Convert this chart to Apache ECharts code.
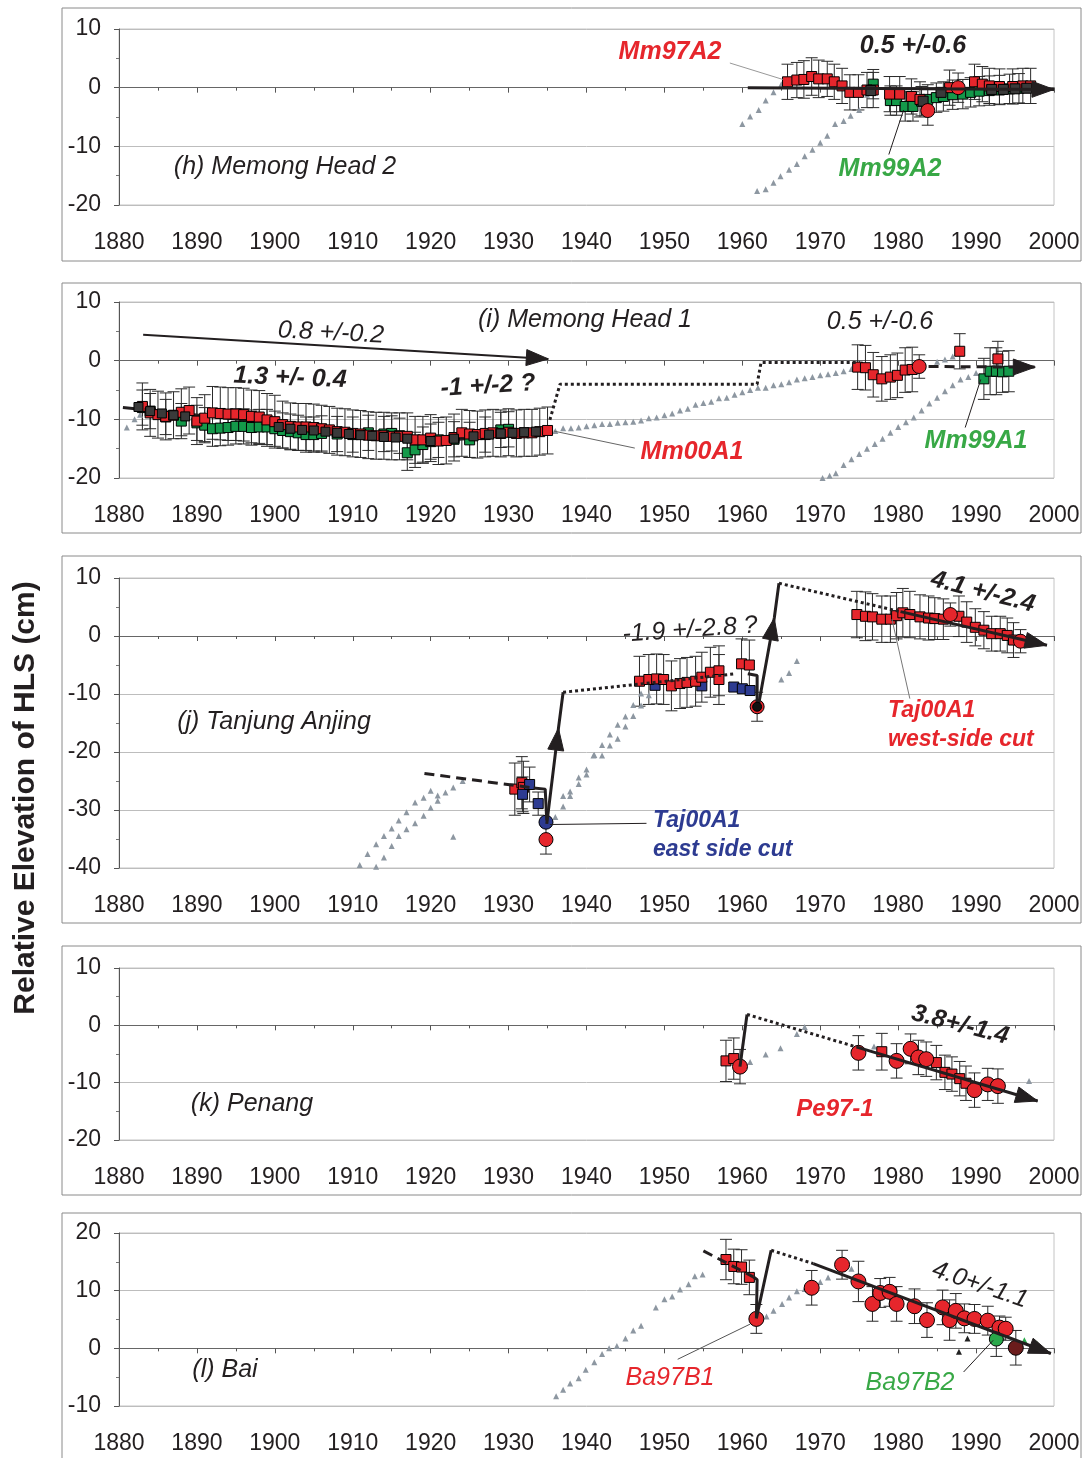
<!DOCTYPE html>
<html><head><meta charset="utf-8">
<script src="https://cdn.jsdelivr.net/npm/echarts@6/dist/echarts.min.js"></script>
<style>html,body{margin:0;padding:0;background:#fff}#c{width:1086px;height:1458px}</style>
</head><body><div id="c"></div><script>
// ---------- axis ranges ----------
const X_MIN = 1880, X_MAX = 2000, X_STEP = 10;
const Y_RANGES = [[-20, 10], [-20, 10], [-40, 10], [-20, 10], [-10, 20]];
const Y_STEP = 10;

// ---------- (h) Memong Head 2 ----------
const hRed = [[1965.8,1.0,3],[1967,1.3,3],[1967.9,1.4,3.2],[1968.9,1.9,3.2],[1969.8,1.5,3.2],[1970.9,1.5,3],[1971.8,1.0,3],[1972.8,0.3,3],[1973.8,-0.8,3],[1974.9,-0.8,3],[1976,-0.4,3],[1976.8,-0.4,3],[1978.9,-1.1,3],[1980.2,-1.1,3],[1981.7,-1.5,3],[1982.8,-2.0,3],[1986.6,0,3],[1989.8,1.0,3],[1990.8,0.6,3],[1991.7,0.3,3],[1993,0.2,3],[1994.7,0.2,3],[1996,0.3,3],[1997,0.3,3]];
const hRedCircle = [[1983.8,-3.9,2.5],[1987.7,0,2.5]];
const hGreen = [[1976.8,0.6,2.5],[1979,-2.2,2.5],[1979.8,-2.2,2.5],[1980.9,-3.2,2.5],[1981.9,-3.2,2.5],[1983,-2.3,2.5],[1983.8,-2,2.5],[1984.9,-1.7,2.5],[1985.8,-1.5,2.5],[1987,-1.2,2.5],[1988.3,-1.1,2.5],[1989.3,-0.8,2.5],[1990.4,-0.6,2.5],[1991.7,-0.5,2.5],[1993,-0.4,2.5],[1994.3,-0.2,2.5],[1995.5,-0.1,2.5]];
const hDark = [[1976.5,-0.5],[1983.2,-2.3],[1985.5,-0.8],[1992,-0.3],[1993.5,-0.3],[1995,-0.2],[1996.5,-0.1]];
const hTriA = [[1960,-6.2],[1961,-4.9],[1962.1,-3.8],[1963,-2.2],[1964,-0.8],[1965,0.6]];
const hTriB = [[1961.9,-17.6],[1963,-17.3],[1964,-16.2],[1964.9,-15.1],[1966,-14],[1967,-13],[1968,-11.7],[1969,-10.6],[1970,-9.4],[1970.9,-8.2],[1971.9,-6.2],[1973,-5.7],[1973.9,-4.8],[1975,-3.8],[1976,-1.2]];
const hTrend = [[1960.7,0],[2000,-0.3]];
const hLeadRed = [[1958.4,4.2],[1965.2,1.4]];
const hLeadGreen = [[1978.8,-11.4],[1980.7,-3.8]];

// ---------- (i) Memong Head 1 ----------
const iRed = [[1883,-7.8,4],[1884,-8.9,4],[1885,-9.2,4],[1886,-9.5,4],[1887,-9.3,4],[1888,-8.8,4],[1889,-8.5,4],[1890,-10.3,4],[1891,-9.8,4],[1892,-8.9,4.5],[1893,-9.0,4.5],[1894,-9.1,4.5],[1895,-9.1,4.5],[1896,-9.2,4.5],[1897,-9.5,4.5],[1898,-9.6,4.5],[1899,-10.1,4.5],[1900,-10.4,4.5],[1901,-10.9,4],[1902,-11.2,4],[1903,-11.3,4],[1904,-11.3,4],[1905,-11.4,4],[1906,-11.6,4],[1907,-11.8,4],[1908,-12.1,4],[1909,-12.2,4],[1910,-12.4,4],[1911,-12.5,4],[1912,-12.7,4],[1913,-12.8,4],[1914,-12.8,4],[1915,-12.9,4],[1916,-12.9,4],[1917,-12.9,4],[1918,-13.5,4],[1919,-13.5,4],[1920,-13.2,4],[1921,-13.7,4],[1922,-13.6,4],[1923,-13.1,4],[1924,-12.3,4],[1925,-12.5,4],[1926,-12.6,4],[1927,-12.4,4],[1928,-12.3,4],[1929,-12.4,4],[1930,-12.2,4],[1931,-12.4,4],[1932,-12.3,4],[1933,-12.3,4],[1934,-12.1,4],[1935,-11.9,4]];
const iGreen = [[1883,-8.0,3],[1884,-8.6,3],[1886,-9.6,3],[1888,-10.3,3],[1890,-10.6,3],[1891,-11.0,3],[1892,-11.6,3],[1893,-11.5,3],[1894,-11.4,3],[1895,-11.2,3],[1896,-11.2,3],[1897,-11.4,3],[1898,-11.3,3],[1899,-11.3,3],[1900,-11.6,3],[1901,-11.9,3],[1902,-12.1,3],[1903,-12.3,3],[1904,-12.6,3],[1905,-12.6,3],[1906,-12.4,3],[1908,-12.5,3],[1910,-12.6,3],[1912,-12.3,3],[1914,-12.5,3],[1915,-12.4,3],[1916,-12.8,3],[1917,-15.7,3],[1918,-15.2,3],[1919,-14.3,3],[1920,-13.8,3],[1921,-13.5,3],[1923,-13.4,3],[1925,-13.5,3],[1927,-12.6,3],[1929,-11.8,3],[1930,-11.7,3]];
const iDark = [[1882.5,-7.9],[1884,-8.6],[1885.5,-9.0],[1887,-9.3],[1888.5,-9.5],[1900.5,-11.3],[1902,-11.6],[1903.5,-11.8],[1905,-11.9],[1906.5,-12.1],[1908,-12.3],[1909.5,-12.5],[1911,-12.7],[1912.5,-12.8],[1914,-13.0],[1915.5,-13.1],[1917,-13.3],[1920,-13.7],[1923,-13.3],[1925.5,-12.9],[1927.5,-12.6],[1929,-12.4],[1930.5,-12.3],[1932,-12.2],[1933.5,-12.1]];
const iRedLate = [[1974.8,-1.1,3.8],[1975.8,-1.2,3.8],[1976.8,-2.4,3.8],[1977.9,-3.1,3.8],[1979,-2.8,3.8],[1979.9,-2.5,3.8],[1980.9,-1.6,3.8],[1981.8,-1.5,3.8],[1987.9,1.6,3],[1992.8,0.3,3]];
const iRedCircle = [[1982.7,-1.0,2]];
const iGreenLate = [[1991,-3.1,3.5],[1991.8,-1.8,4],[1992.6,-1.8,4],[1993.4,-1.9,3.5],[1994.2,-1.8,3.5]];
const iTriA = [[1881,-11.4],[1882,-10],[1882.7,-9.2],[1936,-12],[1937,-11.5],[1938,-11.5],[1939,-11.4],[1940,-11.2],[1941,-11],[1942,-10.8],[1943,-10.8],[1944,-10.6],[1945,-10.5],[1946,-10.4],[1947,-10.2],[1948,-9.8],[1949,-9.7],[1950,-9.3],[1951,-9.0],[1952,-8.5],[1953,-8.2],[1954,-7.5],[1955,-7.2],[1956,-7.0],[1957,-6.4],[1958,-6.3],[1959,-5.8],[1960,-5.4],[1961,-5.0],[1962,-4.6],[1963,-4.6],[1964,-4.2],[1965,-4],[1966,-3.7],[1967,-3.2],[1968,-3.0],[1969,-2.8],[1970,-2.5],[1971,-2.3],[1972,-2.1],[1973,-1.8],[1974,-1.4],[1985,-0.2],[1986,0.2],[1987,0.7]];
const iTriB = [[1970.3,-20],[1971.2,-19.6],[1972,-19.2],[1973,-17.8],[1974,-16.8],[1975,-15.9],[1976,-15],[1977,-14.2],[1978,-13.3],[1979,-12.3],[1980,-11.3],[1981,-10.5],[1982,-9.7],[1983,-8.5],[1984,-7.3],[1985,-6.3],[1986,-5.2],[1987,-4.2],[1988,-3.2],[1989,-2.8],[1990,-2.1]];
const iFit = [[1880.5,-8],[1922,-13.6],[1935,-12]];
const iLongTrend = [[1883.1,4.4],[1935.1,0.3]];
const iDotted = [[1935.3,-10.1],[1936.6,-4],[1961.9,-4],[1962.4,-0.3],[1974.7,-0.3]];
const iLateTrend = [[1983.9,-1],[1997.6,-1.1]];
const iLeadRed = [[1946.2,-14.9],[1935.8,-12.0]];
const iLeadGreen = [[1988.6,-11.4],[1990.6,-3.2]];

// ---------- (j) Tanjung Anjing ----------
const jRedEarly = [[1930.8,-26.4,4.5],[1931.7,-25.3,4.5],[1931.9,-26.1,4.5]];
const jBlueEarly = [[1931.8,-27.3,3],[1932.7,-25.6,3],[1933.8,-28.9,2]];
const jBlueCircle = [[1934.8,-32.1,1.5]];
const jRedCircle = [[1934.8,-35.1,2.5]];
const jRedMid = [[1946.8,-7.8,4.3],[1948,-7.5,4.3],[1949,-7.4,4.3],[1949.9,-7.5,4.3],[1950.9,-8.6,4.3],[1952,-8.2,4.3],[1952.9,-8,4.3],[1954,-7.8,4.3],[1954.8,-7.1,4.3],[1955.9,-6.25,4.3],[1957,-6,4.3],[1957,-7.5,4.3],[1959.9,-4.8,4.3],[1960.9,-5,4.3]];
const jBlueMid = [[1948.8,-8.5],[1954.8,-8.6],[1958.9,-8.8],[1960,-9.1],[1961,-9.4]];
const jDarkCircle = [[1961.9,-12.2,2.5]];
const jRedLate = [[1974.7,3.7,4],[1975.8,3.4,4.2],[1976.7,3.3,4],[1977.9,2.9,4],[1979,2.9,4],[1979.8,3.5,4],[1980.6,4.0,4.2],[1981.5,3.7,4],[1982.8,3.3,3.8],[1983.9,3.1,3.8],[1984.7,3.0,3.6],[1985.8,2.9,3.5],[1987.8,3.4,3.5],[1988.8,2.4,3.5],[1989.9,1.5,3.2],[1991,1.0,3.2],[1992,0.4,3],[1993.1,0.4,3],[1994,0.1,3],[1994.8,-0.7,3]];
const jRedLateCircle = [[1986.7,3.7,2],[1995.7,-0.9,2]];
const jTriA = [[1910.9,-39.5],[1911.9,-37.6],[1913,-35.9],[1914,-34.5],[1915,-33.2],[1915.9,-31.8],[1916.9,-30.4],[1918,-28.7],[1919.1,-27.9],[1920,-26.7],[1920.9,-27.5],[1922.9,-34.6]];
const jTriB = [[1913,-39.8],[1914,-38.2],[1915,-36.2],[1915.9,-34.5],[1916.9,-33.3],[1918,-32.3],[1919.1,-31],[1920,-29.6],[1920.9,-28.4],[1921.9,-27],[1922.9,-26.1],[1924.1,-25]];
const jTriC = [[1936,-31.2],[1937,-29.4],[1937.9,-27.6],[1939,-25.5],[1940,-23.9],[1940.9,-20.6],[1942,-18.8],[1943,-17],[1944,-15.3],[1945,-13.9],[1946,-11.9],[1947,-9.9]];
const jTriD = [[1937,-27.6],[1937.9,-26.8],[1939,-24.4],[1940,-23],[1941,-20.5],[1942,-20.6],[1943,-18.9],[1944,-17.7],[1945,-15.6],[1946,-13.8],[1947,-12],[1948,-10.2],[1965,-7.5],[1966,-6.4],[1967,-4.3]];
const jDashed = [[1919.2,-23.7],[1933.2,-26.2]];
const jKink1 = [[1933.2,-26.2],[1934.7,-26.4],[1934.9,-31.8]];
const jRise1 = [[1934.9,-32.4],[1936.4,-15.9],[1937,-9.7]];
const jDotted1 = [[1937,-9.7],[1959.2,-6.5]];
const jKink2 = [[1960.7,-6.5],[1961.9,-6.8],[1961.9,-12]];
const jRise2 = [[1962,-12.5],[1964.1,3.1],[1964.7,9.1]];
const jDotted2 = [[1964.7,9.1],[1980.3,4.2]];
const jTrend = [[1980.3,4.2],[1999.1,-1.6]];
const jLeadWest = [[1981.5,-10.8],[1979.2,2.9]];
const jLeadEast = [[1947.7,-32.3],[1935.3,-32.5]];

// ---------- (k) Penang ----------
const kRedSq = [[1957.9,-6.2,3.6],[1958.9,-5.8,3.6],[1977.9,-4.6,3.2],[1984.9,-6.5,3],[1986,-8.2,3],[1986.9,-8.5,3],[1987.9,-9.3,3],[1988.7,-10.1,3]];
const kRedCircle = [[1959.7,-7.2,3],[1974.9,-4.8,3],[1979.8,-6.2,3],[1981.6,-4.1,2.6],[1982.6,-5.6,3],[1983.6,-5.9,3],[1989.8,-11.3,3],[1991.5,-10.3,2.8],[1992.8,-10.6,3]];
const kTri = [[1961,-6.4],[1963,-5.1],[1964.9,-4],[1967,-1.5],[1968,-0.3],[1976.9,-3.7],[1996.8,-9.7]];
const kKink = [[1959.7,-7.2],[1960.6,1.9]];
const kDotted = [[1960.6,1.9],[1974.7,-3.8]];
const kTrend = [[1974.7,-3.8],[1997.9,-13.2]];

// ---------- (l) Bai ----------
const lRedSq = [[1957.9,15.4,3.5],[1958.9,14.2,3],[1959.9,14.1,3],[1960.9,12.3,3]];
const lRedCircle = [[1961.8,5.1,2.5],[1968.9,10.5,3],[1972.8,14.5,2.5],[1974.9,11.6,3.5],[1976.7,7.7,3],[1977.7,9.6,2.5],[1978.9,9.8,2.5],[1979.8,7.7,3],[1982.1,7.3,3],[1983.7,4.9,3],[1985.7,7.1,3],[1986.6,4.9,3.5],[1987.4,6.5,3],[1988.5,5.2,2.5],[1989.8,5.1,2.5],[1991.5,4.8,2.5],[1993,3.6,2],[1993.8,3.4,2]];
const lGreenCircle = [[1992.6,1.6,3]];
const lBlackCircle = [[1995.1,0.1,3]];
const lTri = [[1936.1,-8.3],[1937,-7.2],[1937.9,-6.1],[1939,-5.2],[1939.9,-3.7],[1941,-2.4],[1942,-1.0],[1942.9,0],[1943.9,0.4],[1945,1.7],[1946,3.1],[1947,3.9],[1948.9,7.1],[1950,8.5],[1951,9],[1952,10.2],[1953.1,11.1],[1953.9,12.5],[1954.9,12.8],[1963.1,5.5],[1964,6.5],[1965.1,7.7],[1966,8.8],[1967,9.9],[1968,10.3],[1969,10.8],[1970,11.5],[1971,12.3],[1974,13.8]];
const lSmallDark = [[1988.9,1.7],[1987.8,-0.6]];
const lSmallGreen = [[1992.9,2.9],[1996.2,1.4],[1997.8,0.8]];
const lDashed = [[1955,16.9],[1961.4,12.4]];
const lKink = [[1961.4,12.4],[1961.9,11.9],[1961.8,5.2],[1963.7,17]];
const lDotted = [[1963.7,17],[1969.1,14.7]];
const lTrend = [[1969.1,14.7],[1999.6,-0.9]];
const lLeadB1 = [[1951.7,-1.9],[1961,4.2]];
const lLeadB2 = [[1988.4,-4.1],[1992.2,1.4]];

// ---------- styling ----------
const FONT = '"Liberation Sans", Arial, Helvetica, sans-serif';
const RED = '#e6262c', GREEN = '#14994a', BLUE = '#2d3b91', TRI = '#8d97a1', INK = '#231f20';
const GRIDS = [
  {top: 29, height: 176}, {top: 302, height: 176}, {top: 578, height: 290},
  {top: 968, height: 172}, {top: 1233, height: 173}
];
const BOXES = [[62, 8, 1019, 253], [62, 283, 1019, 250], [62, 556, 1019, 367], [62, 946, 1019, 249], [62, 1213, 1019, 262]];

function errBars(g, data, color) {
  return {
    type: 'custom', xAxisIndex: g, yAxisIndex: g, data: data, silent: true, z: 2,
    encode: {x: 0, y: 1},
    renderItem: function (p, api) {
      const x = api.value(0), y = api.value(1), e = api.value(2);
      const t = api.coord([x, y + e]), b = api.coord([x, y - e]);
      const c = 6, st = {stroke: color || '#2a2a2a', lineWidth: 1};
      return {type: 'group', children: [
        {type: 'line', shape: {x1: t[0], y1: t[1], x2: b[0], y2: b[1]}, style: st},
        {type: 'line', shape: {x1: t[0] - c, y1: t[1], x2: t[0] + c, y2: t[1]}, style: st},
        {type: 'line', shape: {x1: b[0] - c, y1: b[1], x2: b[0] + c, y2: b[1]}, style: st}
      ]};
    }
  };
}
function pts(g, data, symbol, size, fill, border, z) {
  return {
    type: 'scatter', xAxisIndex: g, yAxisIndex: g, silent: true, z: z || 3,
    data: data.map(d => [d[0], d[1]]), symbol: symbol, symbolSize: size,
    itemStyle: {color: fill, borderColor: border || 'transparent', borderWidth: border ? 1 : 0, opacity: 1}
  };
}
function path(g, data, type, width, color, z) {
  return {
    type: 'line', xAxisIndex: g, yAxisIndex: g, silent: true, z: z || 4,
    data: data, symbol: 'none', showSymbol: false,
    lineStyle: {color: color || INK, width: width, type: type}
  };
}
// solid triangular arrowhead whose tip sits on the end point of the segment a -> b
function arrowHead(g, a, b, len, half) {
  return {
    type: 'custom', xAxisIndex: g, yAxisIndex: g, silent: true, z: 6,
    data: [[a[0], a[1], b[0], b[1]]], encode: {x: [0, 2], y: [1, 3]},
    renderItem: function (p, api) {
      const A = api.coord([api.value(0), api.value(1)]), B = api.coord([api.value(2), api.value(3)]);
      const dx = B[0] - A[0], dy = B[1] - A[1], L = Math.hypot(dx, dy) || 1;
      const ux = dx / L, uy = dy / L, bx = B[0] - ux * len, by = B[1] - uy * len;
      return {type: 'polygon', shape: {points: [[B[0], B[1]], [bx - uy * half, by + ux * half], [bx + uy * half, by - ux * half]]},
        style: {fill: INK, stroke: INK, lineWidth: 1}};
    }
  };
}
function arrowPath(g, data, type, width, len, half) {
  const n = data.length;
  return [path(g, data, type, width, INK), arrowHead(g, data[n - 2], data[n - 1], len || 22, half || 8)];
}
function arrowMid(g, data, width) {
  return [path(g, data, 'solid', width, INK), arrowHead(g, data[0], data[1], 22, 8)];
}
function txt(x, y, text, opts) {
  opts = opts || {};
  const font = (opts.italic === false ? '' : 'italic ') + (opts.bold ? 'bold ' : '') + (opts.size || 25) + 'px ' + FONT;
  return {
    type: 'text', x: x, y: y, rotation: opts.rot || 0, silent: true, z: 100,
    style: {text: text, font: font, fill: opts.color || INK,
      textAlign: opts.align || 'center', textVerticalAlign: 'middle', align: opts.align || 'center', verticalAlign: 'middle'}
  };
}

const series = [
  // h
  path(0, hLeadRed, 'solid', 1, '#999'), path(0, hLeadGreen, 'solid', 1, INK),
  pts(0, hTriA, 'triangle', 6, TRI), pts(0, hTriB, 'triangle', 6, TRI),
  errBars(0, hRed), errBars(0, hGreen), errBars(0, hRedCircle),
  pts(0, hGreen, 'rect', 10, GREEN, '#000'), pts(0, hRed, 'rect', 10, RED, '#000'),
  pts(0, hDark, 'rect', 10, '#3a3a3a', '#000'), pts(0, hRedCircle, 'circle', 14, RED, '#000'),
  ...arrowPath(0, hTrend, 'solid', 3),
  // i
  path(1, iLeadRed, 'solid', 1, '#666'), path(1, iLeadGreen, 'solid', 1, INK),
  pts(1, iTriA, 'triangle', 6, TRI), pts(1, iTriB, 'triangle', 6, TRI),
  errBars(1, iRed), errBars(1, iGreen), errBars(1, iRedLate), errBars(1, iGreenLate), errBars(1, iRedCircle),
  path(1, iFit, 'solid', 3, INK, 2),
  pts(1, iGreen, 'rect', 10, GREEN, '#000'), pts(1, iRed, 'rect', 10, RED, '#000'),
  pts(1, iDark, 'rect', 9, '#3a3a3a', '#000'),
  pts(1, iRedLate, 'rect', 10, RED, '#000'), pts(1, iGreenLate, 'rect', 10, GREEN, '#000'),
  pts(1, iRedCircle, 'circle', 14, RED, '#000'),
  ...arrowPath(1, iLongTrend, 'solid', 2),
  path(1, iDotted, [3, 3], 3, INK),
  ...arrowPath(1, iLateTrend, [10, 6], 3),
  // j
  path(2, jLeadWest, 'solid', 1, '#777'), path(2, jLeadEast, 'solid', 1, INK),
  pts(2, jTriA, 'triangle', 6, TRI), pts(2, jTriB, 'triangle', 6, TRI),
  pts(2, jTriC, 'triangle', 6, TRI), pts(2, jTriD, 'triangle', 6, TRI),
  errBars(2, jRedEarly), errBars(2, jBlueEarly), errBars(2, jRedCircle), errBars(2, jRedMid),
  errBars(2, jDarkCircle), errBars(2, jRedLate), errBars(2, jRedLateCircle),
  pts(2, jRedEarly, 'rect', 10, RED, '#000'), pts(2, jBlueEarly, 'rect', 10, BLUE, '#000'),
  pts(2, jRedCircle, 'circle', 14, RED, '#000'), pts(2, jBlueCircle, 'circle', 14, BLUE, '#000'),
  pts(2, jBlueMid, 'rect', 10, BLUE, '#000'), pts(2, jRedMid, 'rect', 10, RED, '#000'),
  pts(2, jDarkCircle, 'circle', 14, RED, '#000'), pts(2, jDarkCircle, 'circle', 9, '#111', '#000', 4),
  pts(2, jRedLate, 'rect', 10, RED, '#000'), pts(2, jRedLateCircle, 'circle', 14, RED, '#000'),
  path(2, jDashed, [10, 6], 3, INK), path(2, jKink1, 'solid', 3, INK),
  ...arrowMid(2, jRise1, 3),
  path(2, jDotted1, [3, 3], 3, INK), path(2, jKink2, 'solid', 3, INK),
  ...arrowMid(2, jRise2, 3),
  path(2, jDotted2, [3, 3], 3, INK),
  ...arrowPath(2, jTrend, 'solid', 3),
  // k
  pts(3, kTri, 'triangle', 6, TRI),
  errBars(3, kRedSq), errBars(3, kRedCircle),
  pts(3, kRedSq, 'rect', 10, RED, '#000'), pts(3, kRedCircle, 'circle', 15, RED, '#000'),
  path(3, kKink, 'solid', 3, INK), path(3, kDotted, [3, 3], 3, INK),
  ...arrowPath(3, kTrend, 'solid', 3),
  // l
  path(4, lLeadB1, 'solid', 1, '#555'), path(4, lLeadB2, 'solid', 1, INK),
  pts(4, lTri, 'triangle', 6, TRI), pts(4, lSmallDark, 'triangle', 6, '#222'), pts(4, lSmallGreen, 'triangle', 6, '#2aa84a'),
  errBars(4, lRedSq), errBars(4, lRedCircle), errBars(4, lGreenCircle), errBars(4, lBlackCircle),
  pts(4, lRedSq, 'rect', 10, RED, '#000'), pts(4, lRedCircle, 'circle', 15, RED, '#000'),
  pts(4, lGreenCircle, 'circle', 14, '#2aa84a', '#000'), pts(4, lBlackCircle, 'circle', 15, '#6b1c1c', '#000'),
  path(4, lDashed, [10, 6], 3, INK), path(4, lKink, 'solid', 3, INK),
  path(4, lDotted, [3, 3], 3, INK),
  ...arrowPath(4, lTrend, 'solid', 3)
];

const graphics = [];
BOXES.forEach(b => graphics.push({type: 'rect', shape: {x: b[0], y: b[1], width: b[2], height: b[3]},
  style: {fill: 'none', stroke: '#8a8a8a', lineWidth: 1}, silent: true, z: -10}));
graphics.push(
  {type: 'text', x: 26, y: 798, rotation: Math.PI / 2, silent: true,
   style: {text: 'Relative Elevation of HLS (cm)', font: 'bold 30px ' + FONT, fill: INK,
     textAlign: 'center', textVerticalAlign: 'middle', align: 'center', verticalAlign: 'middle'}},
  // h
  txt(285, 167, '(h) Memong Head 2'),
  txt(670, 52, 'Mm97A2', {bold: true, color: RED}),
  txt(913, 46, '0.5 +/-0.6', {bold: true}),
  txt(890, 169, 'Mm99A2', {bold: true, color: '#38a846'}),
  // i
  txt(331, 333, '0.8 +/-0.2', {rot: -0.05}),
  txt(585, 320, '(i) Memong Head 1'),
  txt(880, 322, '0.5 +/-0.6'),
  txt(290, 378, '1.3 +/- 0.4', {bold: true, rot: -0.04}),
  txt(488, 386, '-1 +/-2 ?', {bold: true, rot: 0.06}),
  txt(692, 452, 'Mm00A1', {bold: true, color: RED}),
  txt(976, 441, 'Mm99A1', {bold: true, color: '#38a846'}),
  // j
  txt(690, 630, '-1.9 +/-2.8 ?', {rot: 0.07}),
  txt(983, 592, '4.1 +/-2.4', {bold: true, rot: -0.25}),
  txt(274, 722, '(j) Tanjung Anjing'),
  txt(888, 711, 'Taj00A1', {bold: true, color: RED, align: 'left', size: 23}),
  txt(888, 740, 'west-side cut', {bold: true, color: RED, align: 'left', size: 23}),
  txt(653, 821, 'Taj00A1', {bold: true, color: BLUE, align: 'left', size: 23}),
  txt(653, 850, 'east side cut', {bold: true, color: BLUE, align: 'left', size: 23}),
  // k
  txt(960, 1025, '3.8+/-1.4', {bold: true, rot: -0.25}),
  txt(252, 1104, '(k) Penang'),
  txt(835, 1109, 'Pe97-1', {bold: true, color: RED, size: 24}),
  // l
  txt(980, 1285, '4.0+/-1.1', {rot: -0.33}),
  txt(225, 1370, '(l) Bai'),
  txt(670, 1378, 'Ba97B1', {color: RED}),
  txt(910, 1383, 'Ba97B2', {color: '#38a846'})
);

const option = {
  animation: false,
  backgroundColor: '#fff',
  textStyle: {fontFamily: FONT},
  grid: GRIDS.map(g => ({left: 119, right: 32, top: g.top, height: g.height,
    show: true, borderColor: '#c4c4c4', borderWidth: 1, backgroundColor: 'transparent'})),
  xAxis: GRIDS.map((g, i) => ({
    type: 'value', gridIndex: i, min: X_MIN, max: X_MAX, interval: X_STEP,
    axisLine: {show: true, lineStyle: {color: '#666', width: 1}},
    axisTick: {show: true, length: 5, lineStyle: {color: '#555'}},
    minorTick: {show: true, splitNumber: 2, length: 3, lineStyle: {color: '#555'}},
    splitLine: {show: false},
    axisLabel: {fontSize: 23, color: INK, margin: 26, fontFamily: FONT, formatter: v => String(v)}
  })),
  yAxis: Y_RANGES.map((r, i) => ({
    type: 'value', gridIndex: i, min: r[0], max: r[1], interval: Y_STEP,
    axisLine: {show: true, onZero: false, lineStyle: {color: '#555', width: 1}},
    axisTick: {show: true, length: 5, lineStyle: {color: '#555'}},
    minorTick: {show: true, splitNumber: 2, length: 3, lineStyle: {color: '#777'}},
    splitLine: {show: true, lineStyle: {color: '#bdbdbd', width: 1}},
    axisLabel: {fontSize: 23, color: INK, margin: 18, fontFamily: FONT}
  })),
  series: series,
  graphic: graphics
};
const chart = echarts.init(document.getElementById('c'), null, {renderer: 'canvas'});
chart.setOption(option);
</script></body></html>
